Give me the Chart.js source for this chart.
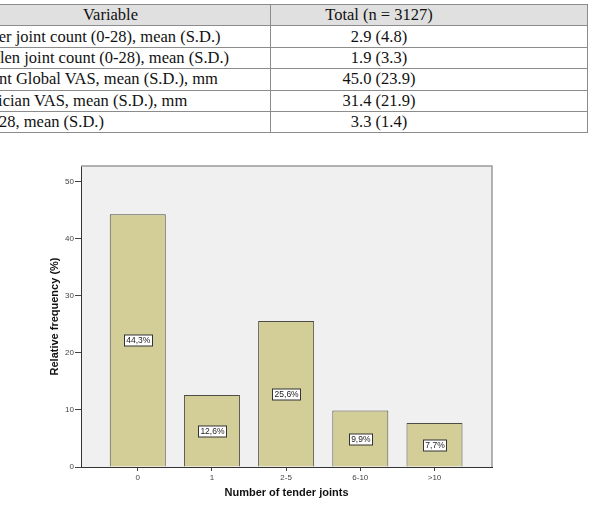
<!DOCTYPE html>
<html>
<head>
<meta charset="utf-8">
<script src="https://cdn.jsdelivr.net/npm/chart.js@4"></script>
<style>
    html, body { margin: 0; padding: 0; background: #fff; }
    body { width: 591px; height: 507px; position: relative; overflow: hidden; }
    #stats-table {
        position: absolute; left: -50px; top: 4px; width: 637px;
        table-layout: fixed;
        border-collapse: collapse;
        font-family: "Liberation Serif", "Times New Roman", serif;
        font-size: 16.5px; color: #111;
    }
    #stats-table td {
        border: 1px solid #8c8c8c; height: 20.4px; padding: 0; line-height: 20px;
        white-space: nowrap; overflow: hidden;
    }
    #stats-table tr.head td { background: #e0e0e0; text-align: center; }
    #stats-table td.var { padding-left: 15px; }
    #stats-table tr.head td.var { padding-left: 0; }
    #stats-table td.val { padding-right: 100px; text-align: center; }
    #chart-box { position: absolute; left: 0; top: 140px; width: 591px; height: 367px; }
</style>
</head>
<body>
<table id="stats-table">
    <colgroup><col style="width:320px"><col style="width:317px"></colgroup>
    <tr class="head"><td class="var">Variable</td><td class="val">Total (n = 3127)</td></tr>
    <tr><td class="var">Tender joint count (0-28), mean (S.D.)</td><td class="val">2.9 (4.8)</td></tr>
    <tr><td class="var">Swollen joint count (0-28), mean (S.D.)</td><td class="val">1.9 (3.3)</td></tr>
    <tr><td class="var">Patient Global VAS, mean (S.D.), mm</td><td class="val">45.0 (23.9)</td></tr>
    <tr><td class="var">Physician VAS, mean (S.D.), mm</td><td class="val">31.4 (21.9)</td></tr>
    <tr><td class="var">DAS28, mean (S.D.)</td><td class="val">3.3 (1.4)</td></tr>
</table>
<div id="chart-box"><canvas id="bar-chart" width="591" height="367"></canvas></div>
<script>
const categories = ['0', '1', '2-5', '6-10', '>10'];
const percents = [44.3, 12.6, 25.6, 9.9, 7.7];
const percentLabels = ['44,3%', '12,6%', '25,6%', '9,9%', '7,7%'];
const yTicks = [0, 10, 20, 30, 40, 50];

const tickFont = {family: '"Liberation Sans", Arial, sans-serif', size: 8};
const titleFont = {family: '"Liberation Sans", Arial, sans-serif', size: 11, weight: 'bold'};

// plot background + gray top/right frame, like the SPSS output
const frame = {
    id: 'frame',
    beforeDraw(chart) {
        const {ctx, chartArea: a} = chart;
        ctx.save();
        ctx.fillStyle = '#f0f0f0';
        ctx.fillRect(a.left, a.top, a.right - a.left, a.bottom - a.top);
        ctx.restore();
    },
    afterDraw(chart) {
        const {ctx, chartArea: a} = chart;
        ctx.save();
        ctx.strokeStyle = '#9a9a9a';
        ctx.lineWidth = 1.5;
        ctx.beginPath();
        ctx.moveTo(a.left, a.top);
        ctx.lineTo(a.right, a.top);
        ctx.lineTo(a.right, a.bottom);
        ctx.stroke();
        ctx.restore();
    }
};

// boxed value labels at half bar height
const boxLabels = {
    id: 'boxLabels',
    afterDatasetsDraw(chart) {
        const {ctx} = chart;
        const meta = chart.getDatasetMeta(0);
        ctx.save();
        ctx.font = '8.5px "Liberation Sans", Arial, sans-serif';
        ctx.textAlign = 'center';
        ctx.textBaseline = 'middle';
        meta.data.forEach((bar, i) => {
            const txt = percentLabels[i];
            const cy = Math.round((bar.y + bar.base) / 2);
            const w = Math.ceil(ctx.measureText(txt).width) + 3;
            const h = 11;
            const x0 = Math.round(bar.x - w / 2) + 0.5;
            const y0 = cy - h / 2 + 0.5;
            ctx.fillStyle = '#fff';
            ctx.fillRect(x0, y0, w, h);
            ctx.strokeStyle = '#333';
            ctx.lineWidth = 1;
            ctx.strokeRect(x0, y0, w, h);
            ctx.fillStyle = '#222';
            ctx.fillText(txt, bar.x + 0.5, cy + 1);
        });
        ctx.restore();
    }
};

new Chart(document.getElementById('bar-chart'), {
    type: 'bar',
    data: {
        datasets: [{
            data: percents.map((v, i) => ({x: i, y: v})),
            backgroundColor: '#d3ce97',
            borderColor: '#4d4d45',
            borderWidth: 1,
            barPercentage: 0.755,
            categoryPercentage: 1
        }]
    },
    options: {
        responsive: false,
        animation: false,
        layout: {padding: {left: 40, right: 99, top: 26, bottom: 0}},
        plugins: {legend: {display: false}, tooltip: {enabled: false}},
        scales: {
            x: {
                type: 'linear',
                offset: false,
                min: -0.765,
                max: 4.775,
                afterBuildTicks: axis => { axis.ticks = categories.map((c, i) => ({value: i})); },
                afterFit: axis => { axis.height = 40; },
                grid: {offset: false, drawOnChartArea: false, tickLength: 4, color: '#444', tickColor: '#444'},
                border: {color: '#333', width: 1},
                ticks: {
                    font: tickFont, color: '#444', padding: 2, maxRotation: 0, autoSkip: false,
                    callback: v => categories[v]
                },
                title: {display: true, text: 'Number of tender joints', font: titleFont, color: '#111', padding: {top: 0, bottom: 7}}
            },
            y: {
                min: 0,
                max: 52.75,
                afterBuildTicks: axis => { axis.ticks = yTicks.map(v => ({value: v})); },
                afterFit: axis => { axis.width = 41; },
                grid: {drawOnChartArea: false, tickLength: 6, color: '#444', tickColor: '#444'},
                border: {color: '#333', width: 1},
                ticks: {font: tickFont, color: '#444', padding: 1},
                title: {display: true, text: 'Relative frequency (%)', font: titleFont, color: '#111', padding: {top: 8, bottom: 0}}
            }
        }
    },
    plugins: [frame, boxLabels]
});
</script>
</body>
</html>
